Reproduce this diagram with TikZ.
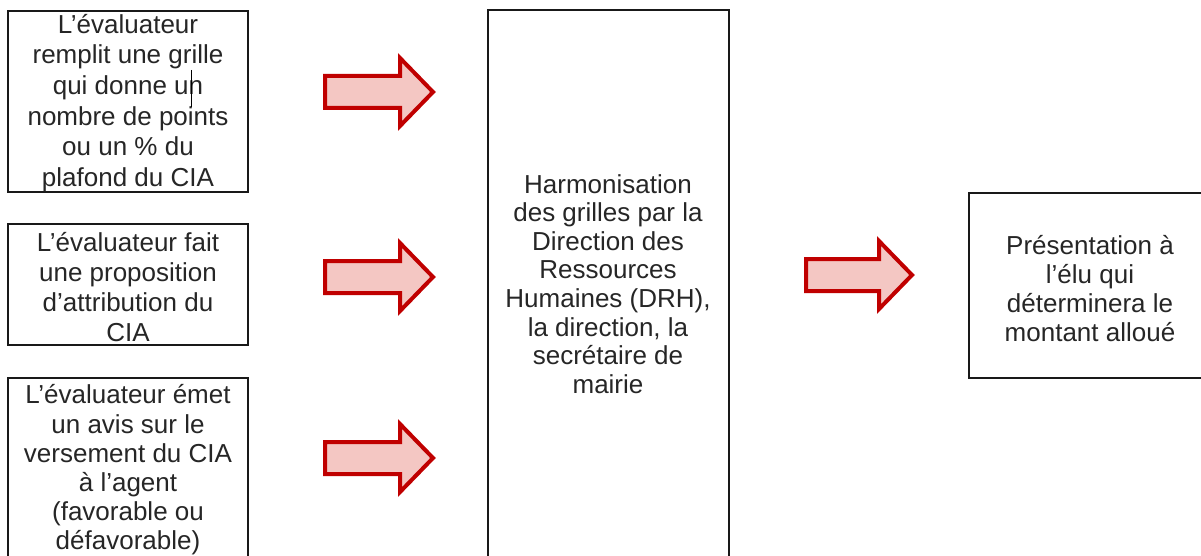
\documentclass[tikz,border=0pt]{standalone}
\usepackage{fontspec}
\setmainfont{Liberation Sans}
\definecolor{arrowred}{HTML}{C00000}
\definecolor{arrowfill}{HTML}{F4C7C3}
\begin{document}
\begin{tikzpicture}[x=1pt,y=-1pt,
  box/.style={draw=black!90, line width=1.6pt},
  txt/.style={align=center, font=\fontsize{26}{30}\selectfont, text=black!85, inner sep=0pt},
  blockarrow/.style={draw=arrowred, fill=arrowfill, line width=4pt, line join=miter}]
\useasboundingbox (0,0) rectangle (1201,556);
\clip (0,0) rectangle (1201,556);
\fill[white] (0,0) rectangle (1201,556);
% boxes
\draw[box] (8,11) rectangle (248,192);
\draw[box] (8,224) rectangle (248,345);
\draw[box] (8,378) rectangle (248,600);
\draw[box] (488,10) rectangle (729,600);
\draw[box] (969,193) rectangle (1230,378);
% texts
\node[txt, font=\fontsize{26}{30.6}\selectfont] (t1) at (128,103) {L’évaluateur\\remplit une grille\\qui donne un\\nombre de points\\ou un \% du\\plafond du CIA};
\draw[line width=0.9pt] (191,70) -- (191,107);
\node[txt] (t2) at (128,287) {L’évaluateur fait\\une proposition\\d’attribution du\\CIA};
\node[txt, font=\fontsize{26}{29.2}\selectfont] (t3) at (128,470) {L’évaluateur émet\\un avis sur le\\versement du CIA\\à l’agent\\(favorable ou\\défavorable)};
\node[txt, font=\fontsize{26}{28.6}\selectfont] (t4) at (608,284) {Harmonisation\\des grilles par la\\Direction des\\Ressources\\Humaines (DRH),\\la direction, la\\secrétaire de\\mairie};
\node[txt, font=\fontsize{26}{29}\selectfont] (t5) at (1090,289) {Présentation à\\l’élu qui\\déterminera le\\montant alloué};
% block arrows
\foreach \x/\y in {325/92, 325/277, 325/458}{
  \draw[blockarrow] (\x,\y-16) -- (\x+75,\y-16) -- (\x+75,\y-34) -- (\x+108,\y) -- (\x+75,\y+34) -- (\x+75,\y+16) -- (\x,\y+16) -- cycle;
}
\draw[blockarrow] (806,259) -- (879,259) -- (879,241) -- (912,275) -- (879,309) -- (879,291) -- (806,291) -- cycle;
\end{tikzpicture}
\end{document}
